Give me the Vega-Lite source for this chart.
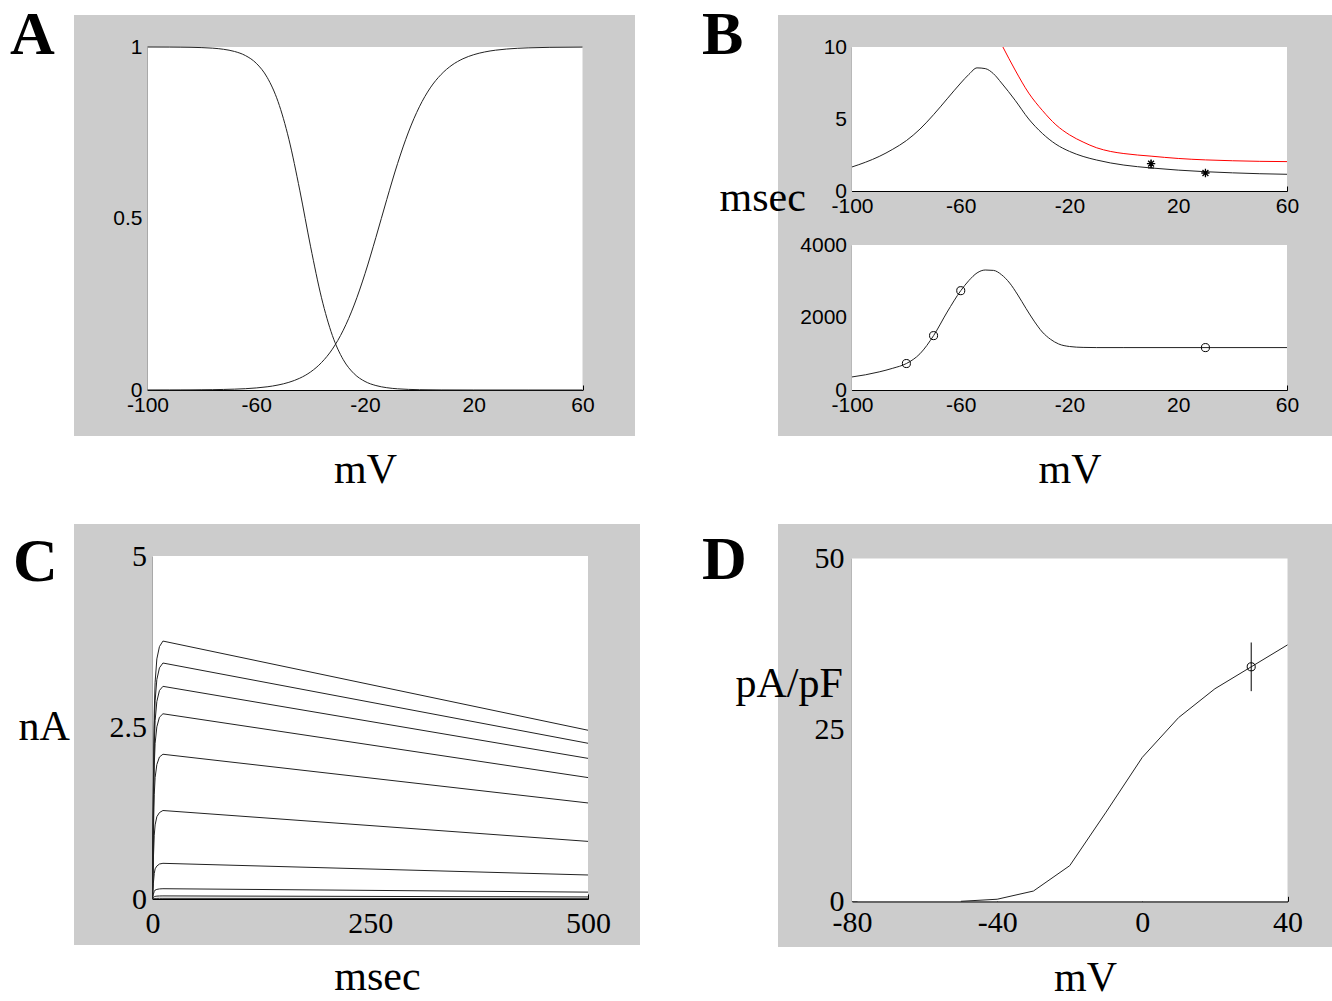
{
  "$schema": "https://vega.github.io/schema/vega-lite/v6.json",
  "background": "white",
  "padding": {"left": 10, "top": 4, "right": 0, "bottom": 0},
  "autosize": {"type": "pad"},
  "config": {
    "view": {"stroke": null},
    "axis": {"zindex": 1, "grid": false, "domainColor": "black", "domainWidth": 1.2, "tickColor": "black", "tickWidth": 1, "tickSize": -5, "labelColor": "black", "labelOverlap": false, "labelFlush": false, "labelBound": false, "titleColor": "black", "titleFontWeight": "normal", "titleFont": "Liberation Serif", "titleFontSize": 42, "titleBaseline": "alphabetic"},
    "title": {"font": "Liberation Serif", "fontSize": 62, "fontWeight": "bold", "color": "black", "anchor": "start", "frame": "group", "orient": "top", "offset": 0, "baseline": "alphabetic"},
    "line": {"color": "#222222", "strokeWidth": 1, "interpolate": "monotone"}
  },
  "datasets": {
    "gates": [
      {"g": "h", "v": -100, "f": 1}, {"g": "h", "v": -92, "f": 0.9998}, {"g": "h", "v": -88, "f": 0.9995}, {"g": "h", "v": -84, "f": 0.9991}, {"g": "h", "v": -80, "f": 0.9982}, {"g": "h", "v": -76, "f": 0.9966}, {"g": "h", "v": -72, "f": 0.9933}, {"g": "h", "v": -68, "f": 0.987}, {"g": "h", "v": -64, "f": 0.9751}, {"g": "h", "v": -60, "f": 0.9526}, {"g": "h", "v": -56, "f": 0.9116}, {"g": "h", "v": -52, "f": 0.8411}, {"g": "h", "v": -48, "f": 0.7311}, {"g": "h", "v": -44, "f": 0.5826}, {"g": "h", "v": -40, "f": 0.4174}, {"g": "h", "v": -36, "f": 0.2689}, {"g": "h", "v": -32, "f": 0.1589}, {"g": "h", "v": -28, "f": 0.0884}, {"g": "h", "v": -24, "f": 0.0474}, {"g": "h", "v": -20, "f": 0.0249}, {"g": "h", "v": -16, "f": 0.013}, {"g": "h", "v": -12, "f": 0.0067}, {"g": "h", "v": -8, "f": 0.0034}, {"g": "h", "v": -4, "f": 0.0018}, {"g": "h", "v": 0, "f": 0.0009}, {"g": "h", "v": 8, "f": 0.0002}, {"g": "h", "v": 20, "f": 0}, {"g": "h", "v": 40, "f": 0}, {"g": "h", "v": 60, "f": 0},
      {"g": "m", "v": -100, "f": 0.0001}, {"g": "m", "v": -92, "f": 0.0002}, {"g": "m", "v": -88, "f": 0.0003}, {"g": "m", "v": -84, "f": 0.0004}, {"g": "m", "v": -80, "f": 0.0007}, {"g": "m", "v": -76, "f": 0.001}, {"g": "m", "v": -72, "f": 0.0016}, {"g": "m", "v": -68, "f": 0.0025}, {"g": "m", "v": -64, "f": 0.0038}, {"g": "m", "v": -60, "f": 0.006}, {"g": "m", "v": -56, "f": 0.0093}, {"g": "m", "v": -52, "f": 0.0145}, {"g": "m", "v": -48, "f": 0.0224}, {"g": "m", "v": -44, "f": 0.0344}, {"g": "m", "v": -40, "f": 0.0527}, {"g": "m", "v": -36, "f": 0.08}, {"g": "m", "v": -32, "f": 0.1192}, {"g": "m", "v": -28, "f": 0.1743}, {"g": "m", "v": -24, "f": 0.2477}, {"g": "m", "v": -20, "f": 0.3392}, {"g": "m", "v": -16, "f": 0.4447}, {"g": "m", "v": -12, "f": 0.5553}, {"g": "m", "v": -8, "f": 0.6608}, {"g": "m", "v": -4, "f": 0.7523}, {"g": "m", "v": 0, "f": 0.8257}, {"g": "m", "v": 4, "f": 0.8808}, {"g": "m", "v": 8, "f": 0.92}, {"g": "m", "v": 12, "f": 0.9473}, {"g": "m", "v": 16, "f": 0.9656}, {"g": "m", "v": 20, "f": 0.9776}, {"g": "m", "v": 24, "f": 0.9855}, {"g": "m", "v": 28, "f": 0.9907}, {"g": "m", "v": 32, "f": 0.994}, {"g": "m", "v": 36, "f": 0.9962}, {"g": "m", "v": 40, "f": 0.9975}, {"g": "m", "v": 48, "f": 0.999}, {"g": "m", "v": 60, "f": 0.9997}
    ],
    "tauFast": [
      {"v": -100, "tau": 1.67}, {"v": -95, "tau": 2.0}, {"v": -90, "tau": 2.4}, {"v": -85, "tau": 2.9}, {"v": -80, "tau": 3.5}, {"v": -75, "tau": 4.3}, {"v": -70, "tau": 5.3}, {"v": -65, "tau": 6.4}, {"v": -60, "tau": 7.5}, {"v": -57, "tau": 8.1}, {"v": -54, "tau": 8.55}, {"v": -51, "tau": 8.5}, {"v": -48, "tau": 8.15}, {"v": -45, "tau": 7.5}, {"v": -40, "tau": 6.3}, {"v": -35, "tau": 5.0}, {"v": -30, "tau": 4.0}, {"v": -25, "tau": 3.25}, {"v": -20, "tau": 2.75}, {"v": -15, "tau": 2.4}, {"v": -10, "tau": 2.15}, {"v": -5, "tau": 1.95}, {"v": 0, "tau": 1.8}, {"v": 10, "tau": 1.6}, {"v": 20, "tau": 1.45}, {"v": 30, "tau": 1.34}, {"v": 40, "tau": 1.26}, {"v": 50, "tau": 1.2}, {"v": 60, "tau": 1.16}
    ],
    "tauRed": [
      {"v": -44.5, "tau": 10}, {"v": -40, "tau": 8.4}, {"v": -35, "tau": 6.8}, {"v": -30, "tau": 5.6}, {"v": -25, "tau": 4.6}, {"v": -20, "tau": 3.9}, {"v": -15, "tau": 3.4}, {"v": -10, "tau": 3.0}, {"v": -5, "tau": 2.75}, {"v": 0, "tau": 2.6}, {"v": 10, "tau": 2.42}, {"v": 20, "tau": 2.26}, {"v": 30, "tau": 2.16}, {"v": 40, "tau": 2.1}, {"v": 50, "tau": 2.06}, {"v": 60, "tau": 2.04}
    ],
    "tauStars": [{"v": 10, "tau": 1.9}, {"v": 30, "tau": 1.25}],
    "tauErr": [{"v": 10, "lo": 1.6, "hi": 2.15}],
    "tauSlow": [
      {"v": -100, "tau": 360}, {"v": -95, "tau": 420}, {"v": -90, "tau": 500}, {"v": -85, "tau": 600}, {"v": -80, "tau": 730}, {"v": -75, "tau": 1000}, {"v": -70, "tau": 1500}, {"v": -65, "tau": 2150}, {"v": -60, "tau": 2740}, {"v": -57, "tau": 3020}, {"v": -54, "tau": 3230}, {"v": -51, "tau": 3310}, {"v": -48, "tau": 3300}, {"v": -45, "tau": 3180}, {"v": -42, "tau": 2950}, {"v": -39, "tau": 2620}, {"v": -36, "tau": 2250}, {"v": -33, "tau": 1900}, {"v": -30, "tau": 1600}, {"v": -27, "tau": 1400}, {"v": -24, "tau": 1270}, {"v": -20, "tau": 1200}, {"v": -15, "tau": 1175}, {"v": -10, "tau": 1170}, {"v": 0, "tau": 1170}, {"v": 60, "tau": 1170}
    ],
    "slowPts": [{"v": -80, "tau": 730}, {"v": -70, "tau": 1500}, {"v": -60, "tau": 2740}, {"v": 30, "tau": 1170}],
    "traces": [
      {"k": 1, "t": 0, "i": 0}, {"k": 1, "t": 1, "i": 1.69}, {"k": 1, "t": 2, "i": 2.71}, {"k": 1, "t": 3, "i": 3.16}, {"k": 1, "t": 5, "i": 3.5}, {"k": 1, "t": 8, "i": 3.68}, {"k": 1, "t": 12, "i": 3.76}, {"k": 1, "t": 500, "i": 2.46},
      {"k": 2, "t": 0, "i": 0}, {"k": 2, "t": 1, "i": 1.55}, {"k": 2, "t": 2, "i": 2.48}, {"k": 2, "t": 3, "i": 2.89}, {"k": 2, "t": 5, "i": 3.2}, {"k": 2, "t": 8, "i": 3.37}, {"k": 2, "t": 12, "i": 3.44}, {"k": 2, "t": 500, "i": 2.27},
      {"k": 3, "t": 0, "i": 0}, {"k": 3, "t": 1, "i": 1.4}, {"k": 3, "t": 2, "i": 2.23}, {"k": 3, "t": 3, "i": 2.6}, {"k": 3, "t": 5, "i": 2.88}, {"k": 3, "t": 8, "i": 3.04}, {"k": 3, "t": 12, "i": 3.1}, {"k": 3, "t": 500, "i": 2.05},
      {"k": 4, "t": 0, "i": 0}, {"k": 4, "t": 1, "i": 1.22}, {"k": 4, "t": 2, "i": 1.94}, {"k": 4, "t": 3, "i": 2.27}, {"k": 4, "t": 5, "i": 2.51}, {"k": 4, "t": 8, "i": 2.65}, {"k": 4, "t": 12, "i": 2.7}, {"k": 4, "t": 500, "i": 1.77},
      {"k": 5, "t": 0, "i": 0}, {"k": 5, "t": 1, "i": 0.95}, {"k": 5, "t": 2, "i": 1.52}, {"k": 5, "t": 3, "i": 1.77}, {"k": 5, "t": 5, "i": 1.96}, {"k": 5, "t": 8, "i": 2.07}, {"k": 5, "t": 12, "i": 2.11}, {"k": 5, "t": 500, "i": 1.4},
      {"k": 6, "t": 0, "i": 0}, {"k": 6, "t": 1, "i": 0.58}, {"k": 6, "t": 2, "i": 0.93}, {"k": 6, "t": 3, "i": 1.08}, {"k": 6, "t": 5, "i": 1.2}, {"k": 6, "t": 8, "i": 1.26}, {"k": 6, "t": 12, "i": 1.29}, {"k": 6, "t": 500, "i": 0.84},
      {"k": 7, "t": 0, "i": 0}, {"k": 7, "t": 1, "i": 0.23}, {"k": 7, "t": 2, "i": 0.37}, {"k": 7, "t": 3, "i": 0.44}, {"k": 7, "t": 5, "i": 0.48}, {"k": 7, "t": 8, "i": 0.51}, {"k": 7, "t": 12, "i": 0.52}, {"k": 7, "t": 500, "i": 0.35},
      {"k": 8, "t": 0, "i": 0}, {"k": 8, "t": 1, "i": 0.07}, {"k": 8, "t": 2, "i": 0.11}, {"k": 8, "t": 3, "i": 0.13}, {"k": 8, "t": 5, "i": 0.14}, {"k": 8, "t": 8, "i": 0.147}, {"k": 8, "t": 12, "i": 0.15}, {"k": 8, "t": 500, "i": 0.1},
      {"k": 9, "t": 0, "i": 0}, {"k": 9, "t": 1, "i": 0.02}, {"k": 9, "t": 2, "i": 0.032}, {"k": 9, "t": 3, "i": 0.038}, {"k": 9, "t": 5, "i": 0.042}, {"k": 9, "t": 8, "i": 0.044}, {"k": 9, "t": 12, "i": 0.045}, {"k": 9, "t": 500, "i": 0.03},
      {"k": 10, "t": 0, "i": 0}, {"k": 10, "t": 1, "i": 0.005}, {"k": 10, "t": 2, "i": 0.007}, {"k": 10, "t": 3, "i": 0.008}, {"k": 10, "t": 5, "i": 0.009}, {"k": 10, "t": 8, "i": 0.01}, {"k": 10, "t": 12, "i": 0.01}, {"k": 10, "t": 500, "i": 0.005}
    ],
    "iv": [
      {"v": -50, "j": 0}, {"v": -40, "j": 0.3}, {"v": -30, "j": 1.5}, {"v": -20, "j": 5.2}, {"v": -10, "j": 13.0}, {"v": 0, "j": 21.0}, {"v": 10, "j": 26.8}, {"v": 20, "j": 31.0}, {"v": 30, "j": 34.2}, {"v": 40, "j": 37.4}
    ],
    "ivPt": [{"v": 30, "j": 34.2, "lo": 30.65, "hi": 37.75}]
  },
  "columns": 2,
  "spacing": {"row": 88, "column": 138},
  "bounds": "flush",
  "concat": [
    {
      "width": 561,
      "height": 421,
      "view": {"fill": "#cccccc", "stroke": null},
      "title": {"text": "A", "dx": -64, "dy": 56},
      "layer": [
        {
          "data": {"values": [{}]},
          "mark": {"type": "rect", "fill": "white"},
          "encoding": {
            "x": {"datum": -100, "type": "quantitative", "scale": {"domain": [-100, 60], "range": [73.5, 508.5], "nice": false, "zero": false},
                  "axis": {"orient": "bottom", "offset": -46, "values": [-100, -60, -20, 20, 60], "labelExpr": "'' + datum.value", "labelFont": "Liberation Sans", "labelFontSize": 21, "labelPadding": 9.5, "title": "mV", "titleY": 92}},
            "x2": {"datum": 60},
            "y": {"datum": 0, "type": "quantitative", "scale": {"domain": [0, 1], "range": [375, 32], "nice": false, "zero": false},
                  "axis": {"orient": "left", "offset": -73.5, "values": [0, 0.5, 1], "labelExpr": "'' + datum.value", "labelFont": "Liberation Sans", "labelFontSize": 21, "labelPadding": 10.5, "title": null}},
            "y2": {"datum": 1}
          }
        },
        {
          "data": {"name": "gates"},
          "mark": {"type": "line"},
          "encoding": {
            "x": {"field": "v", "type": "quantitative"},
            "y": {"field": "f", "type": "quantitative"},
            "detail": {"field": "g"}
          }
        }
      ]
    },
    {
      "width": 554,
      "height": 421,
      "view": {"fill": "#cccccc", "stroke": null},
      "title": {"text": "B", "dx": -76, "dy": 56},
      "resolve": {"scale": {"x": "independent", "y": "independent"}, "axis": {"x": "independent", "y": "independent"}},
      "layer": [
        {
          "layer": [
            {
              "data": {"values": [{}]},
              "mark": {"type": "rect", "fill": "white"},
              "encoding": {
                "x": {"datum": -100, "type": "quantitative", "scale": {"domain": [-100, 60], "range": [74, 509], "nice": false, "zero": false},
                      "axis": {"orient": "bottom", "offset": -245, "values": [-100, -60, -20, 20, 60], "labelExpr": "'' + datum.value", "labelFont": "Liberation Sans", "labelFontSize": 21, "labelPadding": 9.5, "title": null}},
                "x2": {"datum": 60},
                "y": {"datum": 0, "type": "quantitative", "scale": {"domain": [0, 10], "range": [176, 32], "nice": false, "zero": false},
                      "axis": {"orient": "left", "offset": -74, "values": [0, 5, 10], "labelExpr": "'' + datum.value", "labelFont": "Liberation Sans", "labelFontSize": 21, "labelPadding": 10.5, "title": "msec", "titleAngle": 0, "titleAlign": "left", "titleX": -133, "titleY": 195}},
                "y2": {"datum": 10}
              }
            },
            {
              "data": {"name": "tauFast"},
              "mark": {"type": "line"},
              "encoding": {
                "x": {"field": "v", "type": "quantitative"},
                "y": {"field": "tau", "type": "quantitative"}
              }
            },
            {
              "data": {"name": "tauRed"},
              "mark": {"type": "line", "color": "#ff0000"},
              "encoding": {
                "x": {"field": "v", "type": "quantitative"},
                "y": {"field": "tau", "type": "quantitative"}
              }
            },
            {
              "data": {"name": "tauErr"},
              "mark": {"type": "rule", "color": "black", "strokeWidth": 1},
              "encoding": {
                "x": {"field": "v", "type": "quantitative"},
                "y": {"field": "lo", "type": "quantitative"},
                "y2": {"field": "hi"}
              }
            },
            {
              "data": {"name": "tauErr"},
              "mark": {"type": "tick", "orient": "horizontal", "color": "black", "size": 6, "thickness": 1, "opacity": 1},
              "encoding": {
                "x": {"field": "v", "type": "quantitative"},
                "y": {"field": "lo", "type": "quantitative"}
              }
            },
            {
              "data": {"name": "tauStars"},
              "mark": {"type": "point", "shape": "M-1,0L1,0M0,-1L0,1M-0.7,-0.7L0.7,0.7M-0.7,0.7L0.7,-0.7", "size": 70, "stroke": "black", "strokeWidth": 1.3, "filled": false, "opacity": 1},
              "encoding": {
                "x": {"field": "v", "type": "quantitative"},
                "y": {"field": "tau", "type": "quantitative"}
              }
            }
          ]
        },
        {
          "layer": [
            {
              "data": {"values": [{}]},
              "mark": {"type": "rect", "fill": "white"},
              "encoding": {
                "x": {"datum": -100, "type": "quantitative", "scale": {"domain": [-100, 60], "range": [74, 509], "nice": false, "zero": false},
                      "axis": {"orient": "bottom", "offset": -46, "values": [-100, -60, -20, 20, 60], "labelExpr": "'' + datum.value", "labelFont": "Liberation Sans", "labelFontSize": 21, "labelPadding": 9.5, "title": "mV", "titleY": 92}},
                "x2": {"datum": 60},
                "y": {"datum": 0, "type": "quantitative", "scale": {"domain": [0, 4000], "range": [375, 230], "nice": false, "zero": false},
                      "axis": {"orient": "left", "offset": -74, "values": [0, 2000, 4000], "labelExpr": "'' + datum.value", "labelFont": "Liberation Sans", "labelFontSize": 21, "labelPadding": 10.5, "title": null}},
                "y2": {"datum": 4000}
              }
            },
            {
              "data": {"name": "tauSlow"},
              "mark": {"type": "line"},
              "encoding": {
                "x": {"field": "v", "type": "quantitative"},
                "y": {"field": "tau", "type": "quantitative"}
              }
            },
            {
              "data": {"name": "slowPts"},
              "mark": {"type": "point", "shape": "circle", "size": 65, "stroke": "black", "strokeWidth": 1, "filled": false, "opacity": 1},
              "encoding": {
                "x": {"field": "v", "type": "quantitative"},
                "y": {"field": "tau", "type": "quantitative"}
              }
            }
          ]
        }
      ]
    },
    {
      "width": 566,
      "height": 421,
      "view": {"fill": "#cccccc", "stroke": null},
      "title": {"text": "C", "dx": -61, "dy": 74},
      "layer": [
        {
          "data": {"values": [{}]},
          "mark": {"type": "rect", "fill": "white"},
          "encoding": {
            "x": {"datum": 0, "type": "quantitative", "scale": {"domain": [0, 500], "range": [78.5, 514], "nice": false, "zero": false},
                  "axis": {"orient": "bottom", "offset": -46, "values": [0, 250, 500], "labelExpr": "'' + datum.value", "labelFont": "Liberation Serif", "labelFontSize": 30, "labelPadding": 14, "title": "msec", "titleX": 303, "titleY": 90}},
            "x2": {"datum": 500},
            "y": {"datum": 0, "type": "quantitative", "scale": {"domain": [0, 5], "range": [375, 32], "nice": false, "zero": false},
                  "axis": {"orient": "left", "offset": -78.5, "values": [0, 2.5, 5], "labelExpr": "'' + datum.value", "labelFont": "Liberation Serif", "labelFontSize": 30, "labelPadding": 11, "title": "nA", "titleAngle": 0, "titleAlign": "left", "titleX": -134.5, "titleY": 215}},
            "y2": {"datum": 5}
          }
        },
        {
          "data": {"name": "traces"},
          "mark": {"type": "line", "interpolate": "linear"},
          "encoding": {
            "x": {"field": "t", "type": "quantitative"},
            "y": {"field": "i", "type": "quantitative"},
            "detail": {"field": "k"}
          }
        }
      ]
    },
    {
      "width": 554,
      "height": 423,
      "view": {"fill": "#cccccc", "stroke": null},
      "title": {"text": "D", "dx": -76, "dy": 72},
      "layer": [
        {
          "data": {"values": [{}]},
          "mark": {"type": "rect", "fill": "white"},
          "encoding": {
            "x": {"datum": -80, "type": "quantitative", "scale": {"domain": [-80, 40], "range": [74, 509.5], "nice": false, "zero": false},
                  "axis": {"orient": "bottom", "offset": -45.7, "values": [-80, -40, 0, 40], "labelExpr": "'' + datum.value", "labelFont": "Liberation Serif", "labelFontSize": 30, "labelPadding": 11, "title": "mV", "titleX": 307, "titleY": 89}},
            "x2": {"datum": 40},
            "y": {"datum": 0, "type": "quantitative", "scale": {"domain": [0, 50], "range": [377.3, 34.5], "nice": false, "zero": false},
                  "axis": {"orient": "left", "offset": -74, "values": [0, 25, 50], "labelExpr": "'' + datum.value", "labelFont": "Liberation Serif", "labelFontSize": 30, "labelPadding": 13, "title": "pA/pF", "titleAngle": 0, "titleAlign": "left", "titleX": -117, "titleY": 172}},
            "y2": {"datum": 50}
          }
        },
        {
          "data": {"name": "iv"},
          "mark": {"type": "line", "interpolate": "linear"},
          "encoding": {
            "x": {"field": "v", "type": "quantitative"},
            "y": {"field": "j", "type": "quantitative"}
          }
        },
        {
          "data": {"name": "ivPt"},
          "mark": {"type": "rule", "color": "black", "strokeWidth": 1},
          "encoding": {
            "x": {"field": "v", "type": "quantitative"},
            "y": {"field": "lo", "type": "quantitative"},
            "y2": {"field": "hi"}
          }
        },
        {
          "data": {"name": "ivPt"},
          "mark": {"type": "point", "shape": "circle", "size": 65, "stroke": "black", "strokeWidth": 1, "filled": false, "opacity": 1},
          "encoding": {
            "x": {"field": "v", "type": "quantitative"},
            "y": {"field": "j", "type": "quantitative"}
          }
        }
      ]
    }
  ]
}
